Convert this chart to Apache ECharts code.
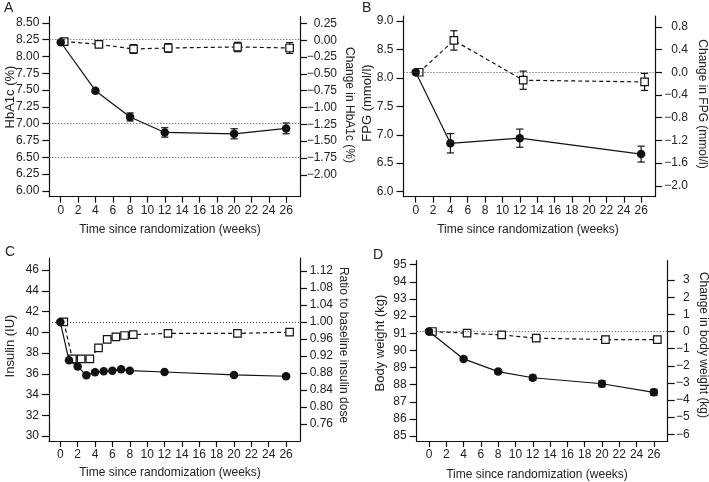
<!DOCTYPE html>
<html><head><meta charset="utf-8">
<script src="https://cdn.jsdelivr.net/npm/echarts@6/dist/echarts.min.js"></script>
<style>html,body{margin:0;padding:0;background:#fff}#c{width:709px;height:482px}</style>
</head><body><div id="c"></div>
<script>
// ---------------- data ----------------
const weekTicks = [0,2,4,6,8,10,12,14,16,18,20,22,24,26];
const squareShift = 0.4; // open squares are drawn slightly to the right of the week

// Panel A: HbA1c
const weeksA = [0,4,8,12,20,26];
const hba1c = [8.21, 7.49, 7.10, 6.87, 6.85, 6.93];
const hba1cErr = [0, 0.02, 0.06, 0.07, 0.075, 0.08];
const hba1cChange = [-0.02, -0.06, -0.13, -0.115, -0.10, -0.115];
const hba1cChangeErr = [0, 0.02, 0.065, 0.065, 0.07, 0.08];
const hba1cRefLines = [8.25, 7.00, 6.50];
const hba1cTicks = [6.00,6.25,6.50,6.75,7.00,7.25,7.50,7.75,8.00,8.25,8.50];
const hba1cChangeTicks = [-2.00,-1.75,-1.50,-1.25,-1.00,-0.75,-0.50,-0.25,0.00,0.25];

// Panel B: FPG
const weeksB = [0,4,12,26];
const fpg = [8.10, 6.85, 6.94, 6.66];
const fpgErr = [0, 0.17, 0.16, 0.14];
const fpgChange = [0, 0.56, -0.14, -0.17];
const fpgChangeErr = [0, 0.17, 0.16, 0.15];
const fpgRefLines = [8.10];
const fpgTicks = [6.0,6.5,7.0,7.5,8.0,8.5,9.0];
const fpgChangeTicks = [-2.0,-1.6,-1.2,-0.8,-0.4,0.0,0.4,0.8];

// Panel C: insulin
const weeksC = [0,1,2,3,4,5,6,7,8,12,20,26];
const insulin = [41.0, 37.3, 36.7, 35.85, 36.14, 36.24, 36.3, 36.43, 36.3, 36.17, 35.89, 35.76];
const insulinRatio = [1.000, 0.913, 0.913, 0.913, 0.939, 0.959, 0.965, 0.968, 0.970, 0.973, 0.973, 0.976];
const insulinRefLines = [41.0];
const insulinTicks = [30,32,34,36,38,40,42,44,46];
const insulinRatioTicks = [0.76,0.80,0.84,0.88,0.92,0.96,1.00,1.04,1.08,1.12];

// Panel D: body weight
const weeksD = [0,4,8,12,20,26];
const weight = [91.1, 89.5, 88.76, 88.4, 88.05, 87.55];
const weightErr = [0, 0.1, 0.12, 0.15, 0.18, 0.18];
const weightChange = [0, -0.1, -0.2, -0.39, -0.47, -0.47];
const weightChangeErr = [0, 0.1, 0.13, 0.15, 0.18, 0.18];
const weightRefLines = [91.1];
const weightTicks = [85,86,87,88,89,90,91,92,93,94,95];
const weightChangeTicks = [-6,-5,-4,-3,-2,-1,0,1,2,3];

// ---------------- styling / layout ----------------
const FONT = 'Liberation Sans, Arial, Helvetica, sans-serif';
const INK = '#111';
const TXT = '#222';

const panels = [
  {grid:{left:49.3, top:16.7, width:250.7, height:180}, x:[-1.32, 27.6],
   left:{min:5.915, max:8.59, ticks:hba1cTicks, dec:2}, right:{min:5.915-8.24, max:8.59-8.24, ticks:hba1cChangeTicks, dec:2, margin:37},
   weeks:weeksA, main:hba1c, mainErr:hba1cErr, sec:hba1cChange, secErr:hba1cChangeErr, refs:hba1cRefLines},
  {grid:{left:403.5, top:16, width:251.5, height:180.7}, x:[-1.41, 27.6],
   left:{min:5.91, max:9.09, ticks:fpgTicks, dec:1}, right:{min:5.91-8.1, max:9.09-8.1, ticks:fpgChangeTicks, dec:1, margin:33},
   weeks:weeksB, main:fpg, mainErr:fpgErr, sec:fpgChange, secErr:fpgChangeErr, refs:fpgRefLines},
  {grid:{left:49, top:258, width:251, height:183}, x:[-1.3, 27.6],
   left:{min:29.52, max:47.16, ticks:insulinTicks, dec:0}, right:{min:29.52/41, max:47.16/41, ticks:insulinRatioTicks, dec:2, margin:33},
   weeks:weeksC, main:insulin, mainErr:null, sec:insulinRatio, secErr:null, refs:insulinRefLines},
  {grid:{left:416.7, top:260.7, width:251, height:180.3}, x:[-1.42, 27.6],
   left:{min:84.71, max:95.23, ticks:weightTicks, dec:0}, right:{min:84.71-91.1, max:95.23-91.1, ticks:weightChangeTicks, dec:0, margin:22},
   weeks:weeksD, main:weight, mainErr:weightErr, sec:weightChange, secErr:weightChangeErr, refs:weightRefLines}
];

function fmt(dec){
  return v => { const s = Number(v).toFixed(dec); return (Number(s) < 0 ? s.replace('-', '\u2212') : s.replace('-', '')); };
}
const axisLineStyle = {color: INK, width: 1.2};

const grids = [], xAxes = [], yAxes = [], series = [];

function renderErr(params, api){
  const x = api.value(0), lo = api.value(1), hi = api.value(2);
  const a = api.coord([x, lo]), b = api.coord([x, hi]);
  const hw = 3.6;
  const st = {stroke: INK, lineWidth: 1.2};
  return {type:'group', children:[
    {type:'line', shape:{x1:a[0], y1:a[1], x2:b[0], y2:b[1]}, style:st},
    {type:'line', shape:{x1:a[0]-hw, y1:a[1], x2:a[0]+hw, y2:a[1]}, style:st},
    {type:'line', shape:{x1:b[0]-hw, y1:b[1], x2:b[0]+hw, y2:b[1]}, style:st}
  ]};
}

panels.forEach((p, gi) => {
  grids.push(p.grid);
  xAxes.push({
    type:'value', gridIndex:gi, min:p.x[0], max:p.x[1],
    axisLine:{show:true, onZero:false, lineStyle:axisLineStyle},
    axisTick:{show:true, customValues:weekTicks, length:6, lineStyle:axisLineStyle},
    axisLabel:{show:true, customValues:weekTicks, fontSize:12, color:TXT, fontFamily:FONT, margin:8},
    splitLine:{show:false}
  });
  yAxes.push({
    type:'value', gridIndex:gi, position:'left', min:p.left.min, max:p.left.max,
    axisLine:{show:true, onZero:false, lineStyle:axisLineStyle},
    axisTick:{show:true, customValues:p.left.ticks, length:7, lineStyle:axisLineStyle},
    axisLabel:{show:true, customValues:p.left.ticks, formatter:fmt(p.left.dec), fontSize:12, color:TXT, fontFamily:FONT, margin:10},
    splitLine:{show:false}
  });
  yAxes.push({
    type:'value', gridIndex:gi, position:'right', min:p.right.min, max:p.right.max,
    axisLine:{show:true, onZero:false, lineStyle:axisLineStyle},
    axisTick:{show:true, customValues:p.right.ticks, length:7, lineStyle:axisLineStyle},
    axisLabel:{show:true, customValues:p.right.ticks, formatter:fmt(p.right.dec), fontSize:12, color:TXT, fontFamily:FONT, margin:p.right.margin, align:'right'},
    splitLine:{show:false}
  });
  const yl = gi*2, yr = gi*2+1;
  // error bars
  if (p.mainErr) series.push({
    type:'custom', xAxisIndex:gi, yAxisIndex:yl, z:2, renderItem:renderErr, encode:{x:0, y:[1,2]},
    data:p.weeks.map((w,i)=>[w, p.main[i]-p.mainErr[i], p.main[i]+p.mainErr[i]]).filter((d,i)=>p.mainErr[i]>0)
  });
  if (p.secErr) series.push({
    type:'custom', xAxisIndex:gi, yAxisIndex:yr, z:2, renderItem:renderErr, encode:{x:0, y:[1,2]},
    data:p.weeks.map((w,i)=>[w+squareShift, p.sec[i]-p.secErr[i], p.sec[i]+p.secErr[i]]).filter((d,i)=>p.secErr[i]>0)
  });
  // change / ratio series (open squares, dashed)
  series.push({
    type:'line', xAxisIndex:gi, yAxisIndex:yr, z:3,
    data:p.weeks.map((w,i)=>[w+squareShift, p.sec[i]]),
    symbol:'rect', symbolSize:7.5, showAllSymbol:true,
    lineStyle:{color:INK, width:1.2, type:[4,3]},
    itemStyle:{color:'#fff', borderColor:INK, borderWidth:1.2}
  });
  // absolute series (filled circles, solid)
  series.push({
    type:'line', xAxisIndex:gi, yAxisIndex:yl, z:4,
    data:p.weeks.map((w,i)=>[w, p.main[i]]),
    symbol:'circle', symbolSize:8.5, showAllSymbol:true,
    lineStyle:{color:INK, width:1.2},
    itemStyle:{color:INK, borderColor:INK, borderWidth:0},
    markLine:{silent:true, symbol:['none','none'], label:{show:false}, animation:false,
      lineStyle:{type:[1,2], color:'#444', width:1}, emphasis:{disabled:true},
      data:p.refs.map(v=>({yAxis:v}))}
  });
});

function txt(text, x, y, rot, size, align){
  return {type:'text', x:x, y:y, rotation:rot||0, silent:true,
    style:{text:text, fontSize:size||12, fontFamily:FONT, fill:TXT, align:align||'center', verticalAlign:'middle'}};
}
const R = Math.PI/2;
const graphics = [
  txt('A', 4, 8, 0, 14, 'left'), txt('B', 362, 8, 0, 14, 'left'),
  txt('C', 5, 252, 0, 14, 'left'), txt('D', 373, 255, 0, 14, 'left'),
  txt('HbA1c (%)', 10, 97, R, 13), txt('Change in HbA1c (%)', 349, 105, -R),
  txt('FPG (mmol/l)', 367, 103, R, 13), txt('Change in FPG (mmol/l)', 702, 104, -R),
  txt('Insulin (IU)', 10, 346, R, 13), txt('Ratio to baseline insulin dose', 343, 345, -R),
  txt('Body weight (kg)', 380, 343, R, 13), txt('Change in body weight (kg)', 703, 345, -R),
  txt('Time since randomization (weeks)', 170, 230), txt('Time since randomization (weeks)', 528, 230),
  txt('Time since randomization (weeks)', 170, 473), txt('Time since randomization (weeks)', 537, 475)
];

const chart = echarts.init(document.getElementById('c'), null, {renderer:'canvas'});
chart.setOption({
  animation:false,
  backgroundColor:'#fff',
  textStyle:{fontFamily:FONT},
  grid:grids, xAxis:xAxes, yAxis:yAxes, series:series,
  graphic:graphics
});
</script></body></html>
